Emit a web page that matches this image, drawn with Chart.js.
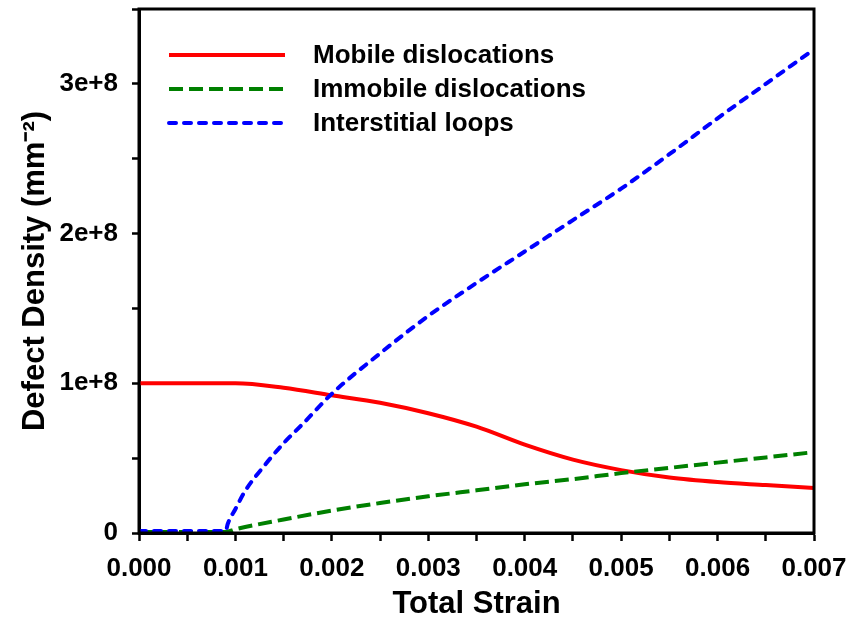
<!DOCTYPE html>
<html>
<head>
<meta charset="utf-8">
<script src="https://cdn.jsdelivr.net/npm/chart.js@4.4.1/dist/chart.umd.min.js"></script>
<style>
  html, body { margin: 0; padding: 0; background: #fff; }
  #wrap { width: 851px; height: 623px; }
</style>
</head>
<body>
<div id="wrap"><canvas id="defectChart" width="851" height="623"></canvas></div>
<script>
// strain values and densities (mm^-2)
const mobileStrain = [0, 0.0005, 0.001, 0.0015, 0.002, 0.0025, 0.003, 0.0035, 0.004, 0.0045, 0.005, 0.0055, 0.006, 0.0065, 0.007];
const mobileDensity = [1.0e8, 1.0e8, 1.0e8, 0.97e8, 0.92e8, 0.87e8, 0.80e8, 0.71e8, 0.59e8, 0.49e8, 0.42e8, 0.37e8, 0.34e8, 0.32e8, 0.30e8];

const immobileStrain = [0, 0.0005, 0.0009, 0.001, 0.0015, 0.002, 0.0025, 0.003, 0.0035, 0.004, 0.0045, 0.005, 0.0055, 0.006, 0.0065, 0.007];
const immobileDensity = [0.007e8, 0.007e8, 0.007e8, 0.025e8, 0.09e8, 0.15e8, 0.20e8, 0.245e8, 0.285e8, 0.325e8, 0.36e8, 0.40e8, 0.435e8, 0.47e8, 0.505e8, 0.54e8];

const loopStrain = [0, 0.0005, 0.0009, 0.00092, 0.001, 0.0011, 0.0013, 0.0015, 0.0017, 0.002, 0.0025, 0.003, 0.0035, 0.004, 0.0045, 0.005, 0.0055, 0.006, 0.0065, 0.007];
const loopDensity = [0.014e8, 0.014e8, 0.014e8, 0.06e8, 0.16e8, 0.28e8, 0.45e8, 0.60e8, 0.73e8, 0.93e8, 1.20e8, 1.45e8, 1.67e8, 1.88e8, 2.09e8, 2.30e8, 2.53e8, 2.77e8, 3.00e8, 3.23e8];

const seriesLabels = ['Mobile dislocations', 'Immobile dislocations', 'Interstitial loops'];
const xLabels = ['0.000', '0.001', '0.002', '0.003', '0.004', '0.005', '0.006', '0.007'];
const yLabels = ['0', '1e+8', '2e+8', '3e+8'];

const toPoints = (xs, ys) => xs.map((x, i) => ({ x, y: ys[i] }));

// black frame round the plot area
const framePlugin = {
  id: 'frame',
  afterDatasetsDraw(chart) {
    const { ctx, chartArea: a } = chart;
    ctx.save();
    ctx.strokeStyle = '#000';
    ctx.lineWidth = 3;
    ctx.strokeRect(a.left, a.top, a.right - a.left, a.bottom - a.top);
    ctx.restore();
  },
};

// legend drawn inside the plot, top left
const insideLegend = {
  id: 'insideLegend',
  afterDraw(chart) {
    const { ctx, chartArea: a } = chart;
    ctx.save();
    ctx.font = 'bold 26px "Liberation Sans", Arial, sans-serif';
    ctx.textBaseline = 'middle';
    chart.data.datasets.forEach((ds, i) => {
      const y = a.top + 46 + i * 34;
      ctx.beginPath();
      ctx.setLineDash(ds.borderDash || []);
      ctx.lineCap = ds.borderCapStyle || 'butt';
      ctx.strokeStyle = ds.borderColor;
      ctx.lineWidth = ds.borderWidth;
      ctx.moveTo(a.left + 30, y);
      ctx.lineTo(a.left + 146, y);
      ctx.stroke();
      ctx.setLineDash([]);
      ctx.fillStyle = '#000';
      ctx.fillText(ds.label, a.left + 174, y + 1);
    });
    ctx.restore();
  },
};

Chart.defaults.font.family = '"Liberation Sans", Arial, sans-serif';
Chart.defaults.font.weight = 'bold';
Chart.defaults.color = '#000';

// minor ticks get a tiny font so their empty labels take no room
const tickFont = (c) => ({ size: c.index % 2 === 0 ? 26 : 1, weight: 'bold' });

const ctx = document.getElementById('defectChart').getContext('2d');

new Chart(ctx, {
  type: 'line',
  data: {
    datasets: [
      {
        label: seriesLabels[0],
        data: toPoints(mobileStrain, mobileDensity),
        borderColor: '#ff0000',
        borderWidth: 4,
        pointRadius: 0,
        cubicInterpolationMode: 'monotone',
        order: 2,
      },
      {
        label: seriesLabels[1],
        data: toPoints(immobileStrain, immobileDensity),
        borderColor: '#008000',
        borderWidth: 4,
        borderDash: [14, 6],
        pointRadius: 0,
        cubicInterpolationMode: 'monotone',
        order: 1,
      },
      {
        label: seriesLabels[2],
        data: toPoints(loopStrain, loopDensity),
        borderColor: '#0000ff',
        borderWidth: 4,
        borderDash: [7, 8],
        borderCapStyle: 'round',
        pointRadius: 0,
        cubicInterpolationMode: 'monotone',
        order: 0,
      },
    ],
  },
  options: {
    responsive: false,
    animation: false,
    layout: { padding: { top: 9, right: 0, left: 0, bottom: 0 } },
    plugins: {
      legend: { display: false },
      tooltip: { enabled: false },
    },
    scales: {
      x: {
        type: 'linear',
        min: 0,
        max: 0.007,
        afterFit: (scale) => {
          scale.height = 90;
          scale.paddingRight = 37;
        },
        ticks: {
          stepSize: 0.0005,
          autoSkip: false,
          maxRotation: 0,
          padding: 12,
          font: tickFont,
          callback: (v, i) => (i % 2 === 0 ? xLabels[i / 2] : ''),
        },
        grid: { drawOnChartArea: false, tickLength: 8, tickWidth: 2.5, tickColor: '#000' },
        border: { color: '#000', width: 3 },
        title: {
          display: true,
          text: 'Total Strain',
          font: { size: 31, weight: 'bold' },
          padding: { top: 0, bottom: 0 },
        },
      },
      y: {
        min: 0,
        max: 3.5e8,
        afterFit: (scale) => {
          scale.width = 139;
          scale.paddingTop = 0;
        },
        ticks: {
          stepSize: 0.5e8,
          autoSkip: false,
          padding: 14,
          font: tickFont,
          callback: (v, i) => (i % 2 === 0 ? yLabels[i / 2] : ''),
        },
        grid: { drawOnChartArea: false, tickLength: 7, tickWidth: 2.5, tickColor: '#000' },
        border: { color: '#000', width: 3 },
        title: {
          display: true,
          text: 'Defect Density (mm⁻²)',
          font: { size: 31, weight: 'bold' },
          padding: { top: 17, bottom: 0 },
        },
      },
    },
  },
  plugins: [framePlugin, insideLegend],
});
</script>
</body>
</html>
